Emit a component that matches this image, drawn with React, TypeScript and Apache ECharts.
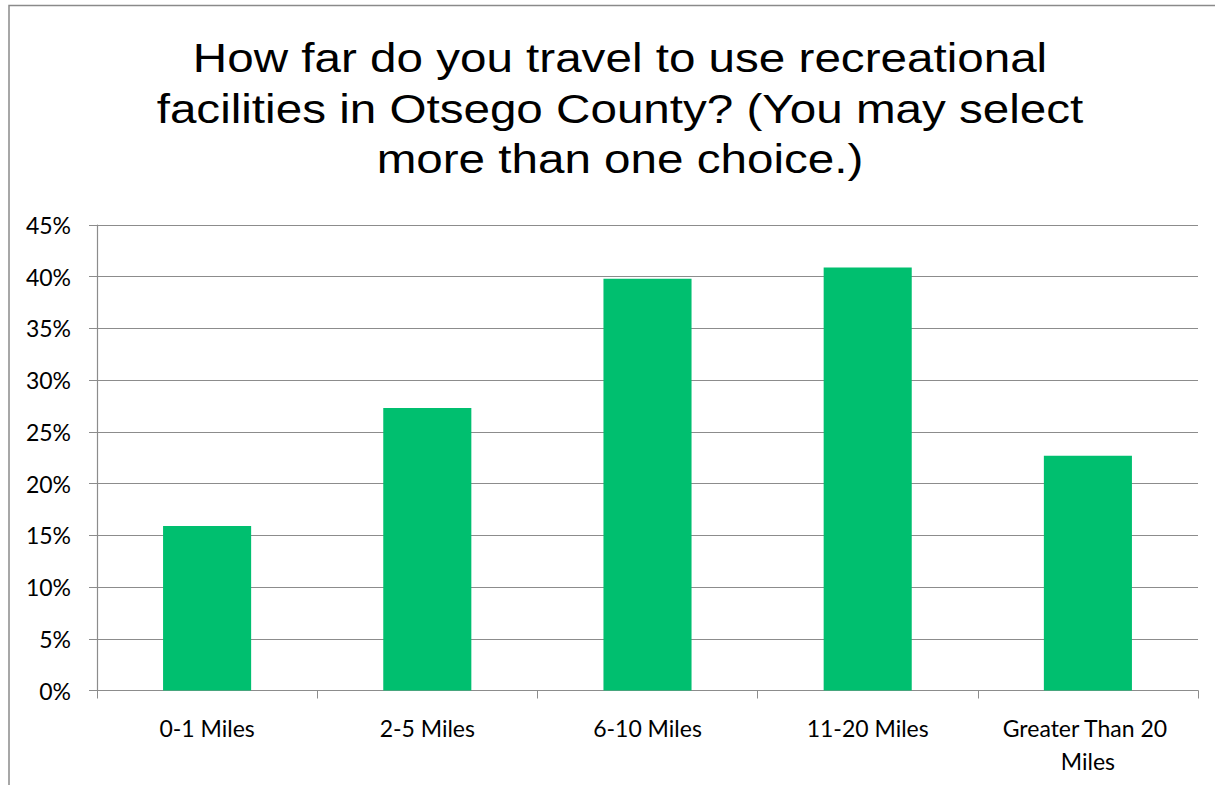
import React, { useEffect, useRef } from "react";
import * as echarts from "echarts";

const categories = ["0-1 Miles", "2-5 Miles", "6-10 Miles", "11-20 Miles", "Greater Than 20 Miles"];
const values = [15.9, 27.3, 39.8, 40.9, 22.7];
const titleText = "How far do you travel to use recreational\nfacilities in Otsego County? (You may select\nmore than one choice.)";

export default function App() {
  const ref = useRef<HTMLDivElement>(null);
  useEffect(() => {
    const chart = echarts.init(ref.current!, null, { renderer: "svg" });
    chart.setOption({
      animation: false,
      backgroundColor: "#ffffff",
      graphic: [
        {
          type: "polyline",
          shape: { points: [[9, 800], [9, 5.5], [1216, 5.5]] },
          style: { fill: "none", stroke: "#8a8a8a", lineWidth: 1.5 },
          silent: true,
        },
        {
          type: "text",
          x: 620,
          y: 33,
          scaleX: 1.19,
          style: {
            text: titleText,
            textAlign: "center",
            textVerticalAlign: "top",
            fontFamily: "Liberation Sans",
            fontSize: 40,
            lineHeight: 50.5,
            fill: "#000",
          },
          silent: true,
        },
      ],
      grid: { left: 97, right: 17, top: 225, bottom: 94.5 },
      xAxis: {
        type: "category",
        data: categories,
        boundaryGap: true,
        axisLine: { lineStyle: { color: "#8c8c8c", width: 1.2 } },
        axisTick: { show: true, length: 8, alignWithLabel: false, lineStyle: { color: "#8c8c8c" } },
        axisLabel: {
          interval: 0,
          margin: 21,
          color: "#000",
          fontFamily: "Lato",
          fontSize: 23,
          lineHeight: 33,
          width: 200,
          overflow: "break",
        },
      },
      yAxis: {
        type: "value",
        min: 0,
        max: 45,
        interval: 5,
        axisLine: { show: true, lineStyle: { color: "#8c8c8c", width: 1.2 } },
        axisTick: { show: true, length: 8, lineStyle: { color: "#8c8c8c" } },
        splitLine: { lineStyle: { color: "#8c8c8c", width: 1.2 } },
        axisLabel: {
          formatter: "{value}%",
          margin: 26,
          color: "#000",
          fontFamily: "Lato",
          fontSize: 23,
        },
      },
      series: [
        {
          type: "bar",
          data: values,
          barWidth: "40%",
          itemStyle: { color: "#00bf6f" },
        },
      ],
    });
    return () => chart.dispose();
  }, []);
  return <div ref={ref} style={{ position: "fixed", left: 0, top: 0, width: 1215, height: 785 }} />;
}
